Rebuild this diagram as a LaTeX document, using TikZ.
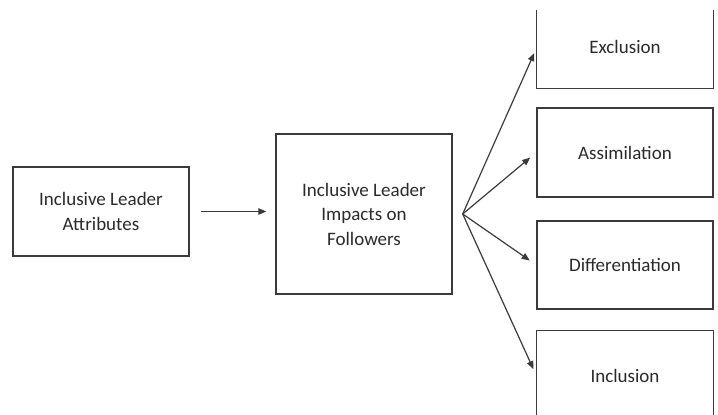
\documentclass[tikz,border=0pt]{standalone}
\usepackage{fontspec}
\setmainfont{Carlito}
\usetikzlibrary{arrows.meta}
\definecolor{linegray}{HTML}{3A3A3A}
\definecolor{textgray}{HTML}{2A2A2A}
\begin{document}
\begin{tikzpicture}[x=1pt,y=-1pt,
  box/.style={draw=linegray,line width=1.4pt,minimum width=176pt,inner sep=0pt,
    align=center,text=textgray,font=\fontsize{19}{24.5}\selectfont},
  openbox/.style={box,draw=none},
  conn/.style={draw=linegray,line width=1.2pt,-{Triangle[length=8pt,width=6.5pt]}}]
\useasboundingbox (0,0) rectangle (718,415);
\clip (0,0) rectangle (718,415);
\node[box,minimum height=89pt] (attr) at (101,211.5) {Inclusive Leader\\Attributes};
\node[box,minimum height=160pt] (imp) at (364,214) {Inclusive Leader\\Impacts on\\Followers};
\node[openbox,minimum height=83pt] (excl) at (625,46.5) {Exclusion};
\node[box,minimum height=89pt] (assim) at (625,152.5) {Assimilation};
\node[box,minimum height=88pt] (diff) at (625,265) {Differentiation};
\node[openbox,minimum height=89pt] (incl) at (625,375.5) {Inclusion};
\draw[draw=linegray,line width=1.4pt] (excl.south west |- 0,10) -- (excl.south west) -- (excl.south east) -- (excl.south east |- 0,10);
\draw[draw=linegray,line width=1.4pt] (incl.south west |- 0,416) -- (incl.north west) -- (incl.north east) -- (incl.south east |- 0,416);
\coordinate (fan) at ([xshift=10pt]imp.east);
\draw[conn,shorten <=11pt,shorten >=9pt] (attr.east) -- (attr.east -| imp.west);
\draw[conn,shorten >=5pt] (fan) -- ([yshift=-2pt]excl.west);
\draw[conn,shorten >=8pt] (fan) -- (assim.west);
\draw[conn,shorten >=8pt] (fan) -- (diff.west);
\draw[conn,shorten >=7pt] (fan) -- (incl.west);
\end{tikzpicture}
\end{document}
